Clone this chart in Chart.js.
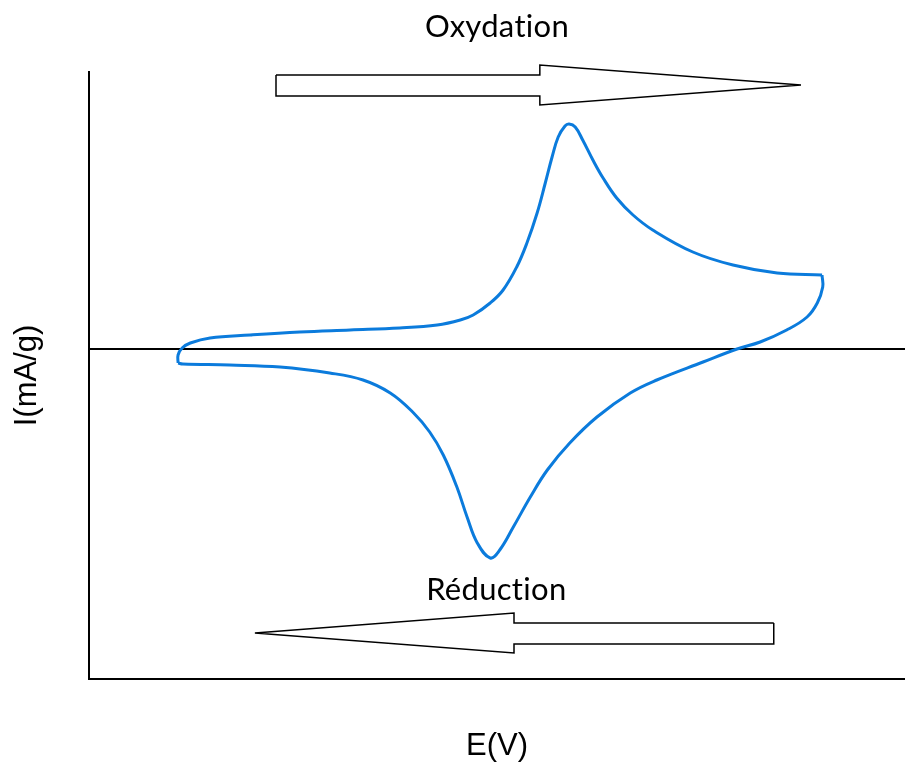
<!DOCTYPE html>
<html>
<head>
<meta charset="utf-8">
<script src="https://cdn.jsdelivr.net/npm/chart.js@4/dist/chart.umd.min.js"></script>
<style>
	body { margin:0; background:#fff; }
	#wrap { position:relative; width:905px; height:764px; }
</style>
</head>
<body>
<div id="wrap"><canvas id="cv"></canvas></div>
<script>
// voltammogram, oxidation sweep (left -> right)
const eForward = [0.131, 0.131, 0.137, 0.149, 0.178, 0.237, 0.310, 0.384, 0.457, 0.512, 0.546, 0.565, 0.590, 0.609, 0.629, 0.644, 0.659, 0.671, 0.681, 0.690, 0.700, 0.706, 0.715, 0.726, 0.741, 0.756, 0.776, 0.800, 0.829, 0.888, 0.947, 1.012, 1.078]
const iForward = [-0.14, -0.06, 0.01, 0.06, 0.11, 0.14, 0.17, 0.19, 0.21, 0.24, 0.29, 0.34, 0.46, 0.59, 0.82, 1.06, 1.36, 1.66, 1.92, 2.12, 2.23, 2.25, 2.22, 2.09, 1.89, 1.71, 1.51, 1.34, 1.19, 0.97, 0.84, 0.76, 0.74]

// reduction sweep (right -> left)
const eReverse = [1.078, 1.079, 1.071, 1.056, 1.026, 0.987, 0.953, 0.903, 0.835, 0.796, 0.747, 0.707, 0.674, 0.649, 0.624, 0.604, 0.590, 0.571, 0.556, 0.541, 0.521, 0.501, 0.476, 0.443, 0.403, 0.354, 0.281, 0.207, 0.138, 0.131]
const iReverse = [0.74, 0.62, 0.46, 0.32, 0.19, 0.07, 0.00, -0.13, -0.31, -0.44, -0.68, -0.94, -1.21, -1.48, -1.78, -2.01, -2.09, -1.94, -1.68, -1.38, -1.06, -0.83, -0.63, -0.44, -0.31, -0.24, -0.18, -0.16, -0.15, -0.14]

// block arrows (outline)
const arrowOxE = [0.275, 0.663, 0.663, 1.047, 0.663, 0.663, 0.275, 0.275]
const arrowOxI = [2.74, 2.74, 2.84, 2.64, 2.44, 2.53, 2.53, 2.74]
const arrowRedE = [1.007, 0.625, 0.625, 0.244, 0.625, 0.625, 1.007, 1.007]
const arrowRedI = [-2.74, -2.74, -2.64, -2.84, -3.04, -2.95, -2.95, -2.74]

// text notes
const notes = ['Oxydation', 'Réduction']
const noteE = [0.600, 0.599]
const noteI = [3.22, -2.41]

const xTitle = 'E(V)'
const yTitle = 'I(mA/g)'

const pts = (xs, ys) => xs.map((x, i) => ({x:x, y:ys[i]}))

const curve = (d) => ({
	data: d,
	showLine: true,
	fill: false,
	borderColor: '#0b7bdc',
	borderWidth: 3,
	pointRadius: 0,
	tension: 0.4,
})
const arrow = (d) => ({
	data: d,
	showLine: true,
	fill: false,
	borderColor: '#000',
	borderWidth: 1.5,
	pointRadius: 0,
	tension: 0,
	clip: false,
})

const notePlugin = {
	id: 'notes',
	afterDatasetsDraw(c) {
		const g = c.ctx, sx = c.scales.x, sy = c.scales.y
		g.save()
		g.fillStyle = '#000'
		g.font = '31px Lato, "Open Sans", sans-serif'
		g.letterSpacing = '0.3px' // no "ti" ligature
		g.textAlign = 'center'
		g.textBaseline = 'middle'
		notes.forEach((t, i) => g.fillText(t, sx.getPixelForValue(noteE[i]), sy.getPixelForValue(noteI[i])))
		g.restore()
	}
}

new Chart(document.getElementById('cv'), {
	type: 'scatter',
	data: {
		datasets: [
			curve(pts(eForward, iForward)),
			curve(pts(eReverse, iReverse)),
			arrow(pts(arrowOxE, arrowOxI)),
			arrow(pts(arrowRedE, arrowRedI)),
		]
	},
	options: {
		responsive: true,
		maintainAspectRatio: false,
		animation: false,
		layout: { padding: { top: 72, right: 0, left: 0, bottom: 0 } },
		plugins: {
			legend: { display: false },
			tooltip: { enabled: false },
		},
		scales: {
			x: {
				type: 'linear',
				min: 0,
				max: 1.2,
				ticks: { display: false },
				grid: { display: false, drawTicks: false },
				border: { color: '#000', width: 2 },
				title: {
					display: true,
					text: xTitle,
					color: '#000',
					font: { family: '"Liberation Sans", Arial, sans-serif', size: 31, lineHeight: 1 },
					padding: { top: 52, bottom: 2 },
				},
			},
			y: {
				min: -3.30,
				max: 2.77,
				ticks: { display: false, stepSize: 1 },
				grid: {
					drawTicks: false,
					lineWidth: 2,
					color: ctx => (ctx.tick && ctx.tick.value === 0) ? '#000' : 'rgba(0,0,0,0)',
				},
				border: { color: '#000', width: 2 },
				title: {
					display: true,
					text: yTitle,
					color: '#000',
					font: { family: '"Liberation Sans", Arial, sans-serif', size: 31, lineHeight: 1 },
					padding: { top: 12, bottom: 46 },
				},
			},
		},
	},
	plugins: [notePlugin],
})
</script>
</body>
</html>
